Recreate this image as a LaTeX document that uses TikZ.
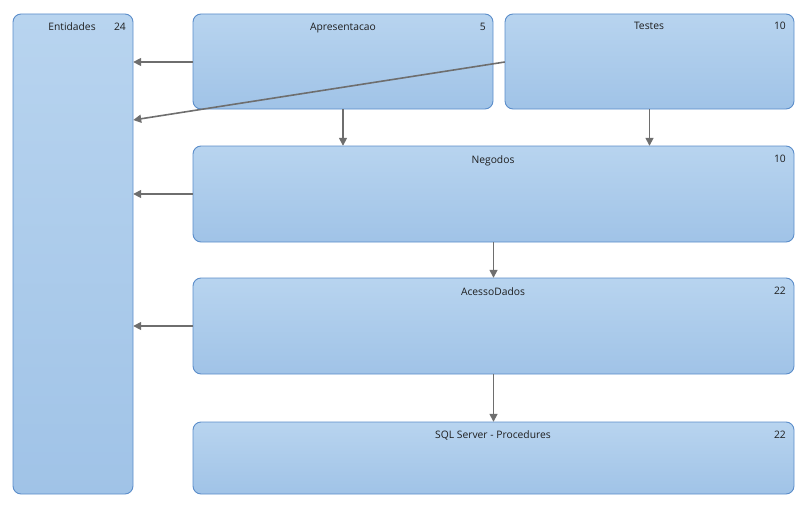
\documentclass[tikz,border=0pt]{standalone}
\usepackage{fontspec}
\setmainfont{Open Sans}
\usetikzlibrary{arrows.meta,positioning}
\definecolor{boxtop}{HTML}{B8D4EF}
\definecolor{boxbot}{HTML}{A0C3E7}
\definecolor{boxline}{HTML}{5B8DCA}
\definecolor{linkgray}{HTML}{6E6E6E}
\definecolor{txt}{HTML}{1E1E1E}
\tikzset{
  layer/.style={draw=boxline, line width=0.9pt, rounded corners=8pt,
    top color=boxtop, bottom color=boxbot, inner sep=0pt},
  ttl/.style={font=\fontsize{10.3}{12}\selectfont, text=txt, inner sep=0pt, anchor=base},
  cnt/.style={font=\fontsize{10.3}{12}\selectfont, text=txt, inner sep=0pt, anchor=base east},
  dep/.style={draw=linkgray, line width=1.6pt, -{Triangle[length=8pt,width=8pt]}},
}
\begin{document}
\begin{tikzpicture}[x=1pt,y=-1pt]
\useasboundingbox (0,0) rectangle (808,511);
% layer boxes
\path[layer] (13,14) rectangle (133,494);
\path[layer] (193,14) rectangle (493,109);
\path[layer] (505,14) rectangle (794,109);
\path[layer] (193,146) rectangle (794,242);
\path[layer] (193,278) rectangle (794,374);
\path[layer] (193,422) rectangle (794,494);
% named anchors for the boxes
\node[inner sep=0pt, minimum width=120pt, minimum height=480pt] (entidades) at (73,254) {};
\node[inner sep=0pt, minimum width=300pt, minimum height=95pt] (apres) at (343,61.5) {};
\node[inner sep=0pt, minimum width=289pt, minimum height=95pt] (testes) at (649.5,61.5) {};
\node[inner sep=0pt, minimum width=601pt, minimum height=96pt] (negocios) at (493.5,194) {};
\node[inner sep=0pt, minimum width=601pt, minimum height=96pt] (acesso) at (493.5,326) {};
\node[inner sep=0pt, minimum width=601pt, minimum height=72pt] (sql) at (493.5,458) {};
% titles and counts
\node[ttl] (t1) at (72,31) {Entidades};
\node[cnt] (c1) at (126,31) {24};
\node[ttl] (t2) at (343,31) {Apresentacao};
\node[cnt] (c2) at (486,31) {5};
\node[ttl] (t3) at (649,30) {Testes};
\node[cnt] (c3) at (786,30) {10};
\node[ttl] (t4) at (493,163) {Negodos};
\node[cnt] (c4) at (786,162) {10};
\node[ttl] (t5) at (493,295) {AcessoDados};
\node[cnt] (c5) at (786,294) {22};
\node[ttl] (t6) at (493,438) {SQL Server - Procedures};
\node[cnt] (c6) at (786,438) {22};
% dependencies
\draw[dep] (apres.west |- 0,62) -- (entidades.east |- 0,62);
\draw[dep] (testes.west |- 0,62) -- (entidades.east |- 0,120);
\draw[dep] (negocios.west) -- (entidades.east |- negocios.west);
\draw[dep] (acesso.west) -- (entidades.east |- acesso.west);
\draw[dep] (apres.south) -- (apres.south |- negocios.north);
\draw[dep] (testes.south) -- (testes.south |- negocios.north);
\draw[dep] (negocios.south) -- (acesso.north);
\draw[dep] (acesso.south) -- (sql.north);
\end{tikzpicture}
\end{document}
